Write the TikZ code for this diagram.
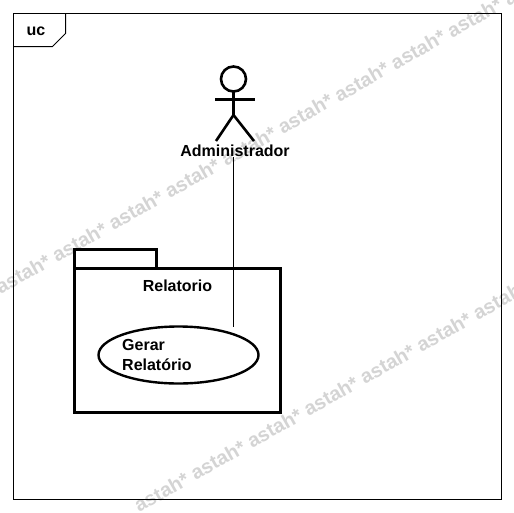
\documentclass[tikz,border=0pt]{standalone}
\usepackage{fontspec}
\usetikzlibrary{shapes.geometric}
\setmainfont{Liberation Sans}
\tikzset{
  wm/.style={text=black!17,font=\fontsize{19.8}{20}\selectfont\bfseries,rotate=29.6,inner sep=0pt,anchor=base west},
  lbl/.style={font=\fontsize{16}{20}\selectfont\bfseries,text=black,inner sep=0pt},
  thick2/.style={draw=black,line width=3pt,line join=miter},
  actor/.style={draw=black,line width=2.6pt},
}
\begin{document}
\begin{tikzpicture}[x=1pt,y=-1pt]
\path[use as bounding box,fill=white] (0,0) rectangle (514,512);
\begin{scope}
\clip (0,0) rectangle (514,512);
\node[wm] (w1) at (-56,327) {astah* astah* astah* astah* astah* astah* astah* astah* astah* astah* astah*};
\node[wm] (w2) at (139,513) {astah* astah* astah* astah* astah* astah* astah* astah*};
\end{scope}
% frame
\draw[black,line width=1pt] (13.5,13.5) rectangle (501.5,499.5);
\draw[black,line width=1pt] (13.5,46.5) -- (52.5,46.5) -- (65.5,33.5) -- (65.5,13.5);
\node[lbl,anchor=center] (uc) at (36,31) {uc};
% actor
\draw[actor] (233.5,79) circle (12.5);
\draw[actor] (233.5,92) -- (233.5,115);
\draw[actor] (215,99.5) -- (255,99.5);
\draw[actor] (216,141) -- (233.5,115) -- (254,141);
\node[lbl,anchor=center] (admin) at (235,151) {Administrador};
% package
\draw[thick2] (74,268.5) -- (74,249.5) -- (156,249.5) -- (156,268.5);
\draw[thick2] (74,268.5) rectangle (280.5,412.5);
\node[lbl,anchor=center] (pkg) at (177.5,286) {Relatorio};
% use case
\node[draw=black,line width=2.4pt,ellipse,minimum width=160pt,minimum height=57pt,inner sep=0pt] (case) at (178.5,355) {};
\node[lbl,anchor=west] (g1) at (122,345) {Gerar};
\node[lbl,anchor=west] (g2) at (122,365) {Relatório};
\coordinate (end) at (233.5,326.5);
\draw[black,line width=1pt] (admin.south -| end) -- (end);
\end{tikzpicture}
\end{document}
